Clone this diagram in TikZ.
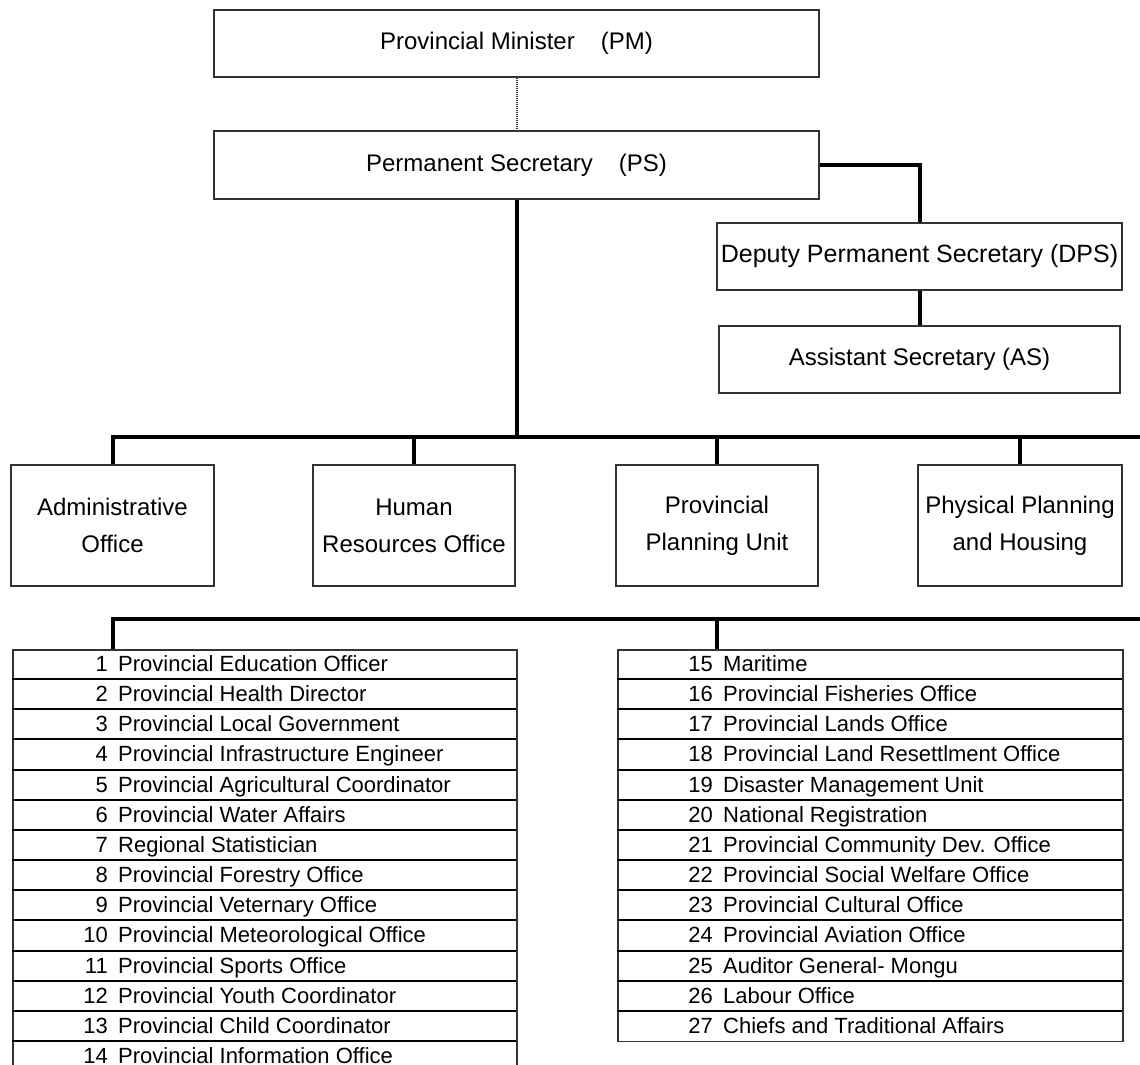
\documentclass[tikz,border=0pt]{standalone}
\usepackage{fontspec}
\setmainfont{Liberation Sans}
\newcommand\orgboxfont{\fontsize{24}{37}\selectfont}
\newcommand\orgwidefont{\fontsize{25}{30}\selectfont}
\newcommand\orgcellfont{\fontsize{22}{26}\selectfont}
\begin{document}
\begin{tikzpicture}[x=1pt,y=-1pt,
  box/.style={draw=black!80, line width=1.5pt, fill=white, inner sep=0pt,
              align=center, font=\orgboxfont},
  conn/.style={line width=4pt, black, line join=miter},
  link/.style={line width=2pt, black!80, dash pattern=on 1pt off 1pt},
  frame/.style={draw=black!80, line width=1.5pt, inner sep=0pt, anchor=north west},
  rowrule/.style={line width=2pt, black},
  num/.style={anchor=base east, inner sep=0pt, font=\orgcellfont},
  item/.style={anchor=base west, inner sep=0pt, font=\orgcellfont},
]
\useasboundingbox (0,0) rectangle (1140,1065);
\clip (0,0) rectangle (1140,1065);
\fill[white] (0,0) rectangle (1140,1065);

% --- top of the hierarchy ---
\node[box, minimum width=605, minimum height=67] (pm) at (516.5,43.5)
  {Provincial Minister\hspace{26pt}(PM)};
\node[box, minimum width=605, minimum height=68] (ps) at (516.5,165)
  {Permanent Secretary\hspace{26pt}(PS)};
\node[box, font=\orgwidefont, minimum width=405, minimum height=67] (dps) at (919.5,256.5)
  {Deputy Permanent Secretary (DPS)};
\node[box, minimum width=401, minimum height=67] (as) at (919.5,359.5)
  {Assistant Secretary (AS)};

\draw[link] (pm.south) -- (ps.north);
\draw[conn] (ps.east) -| (dps.north);
\draw[conn] (dps.south) -- (as.north);

% --- first row of offices ---
\node[box, minimum width=203, minimum height=121] (adm) at (112.5,525.5)
  {Administrative\\Office};
\node[box, minimum width=202, minimum height=121] (hr) at (414,525.5)
  {Human\\Resources Office};
\node[box, minimum width=202, minimum height=121] (ppu) at (717,525.5)
  {Provincial\\Planning Unit};
\node[box, minimum width=204, minimum height=121] (pph) at (1020,525.5)
  {Physical Planning\\and Housing};

\coordinate (busA) at (1150,437);
\draw[conn] (ps.south) -- (ps.south |- busA);
\draw[conn] (adm.north) -- (adm.north |- busA) -- (busA);
\foreach \b in {hr,ppu,pph}
  \draw[conn] (\b.north) -- (\b.north |- busA);

% --- line departments ---
\node[frame, minimum width=504, minimum height=422.1] (tabL) at (12,649) {};
\node[frame, minimum width=505, minimum height=391.95] (tabR) at (617,649) {};

\foreach \k in {1,...,13}
  \draw[rowrule] (12,649+\k*30.15) -- (516,649+\k*30.15);
\foreach \k in {1,...,12}
  \draw[rowrule] (617,649+\k*30.15) -- (1122,649+\k*30.15);

\foreach \n/\t [count=\k from 0] in {
  1/Provincial Education Officer,
  2/Provincial Health Director,
  3/Provincial Local Government,
  4/Provincial Infrastructure Engineer,
  5/Provincial Agricultural Coordinator,
  6/Provincial Water Affairs,
  7/Regional Statistician,
  8/Provincial Forestry Office,
  9/Provincial Veternary Office,
  10/Provincial Meteorological Office,
  11/Provincial Sports Office,
  12/Provincial Youth Coordinator,
  13/Provincial Child Coordinator,
  14/Provincial Information Office}{
  \node[num] (n\n) at (108,671.5+\k*30.15) {\n};
  \node[item] (t\n) at (118,671.5+\k*30.15) {\t};
}
\foreach \n/\t [count=\k from 0] in {
  15/Maritime,
  16/Provincial Fisheries Office,
  17/Provincial Lands Office,
  18/Provincial Land Resettlment Office,
  19/Disaster Management Unit,
  20/National Registration,
  21/Provincial Community Dev. Office,
  22/Provincial Social Welfare Office,
  23/Provincial Cultural Office,
  24/Provincial Aviation Office,
  25/Auditor General- Mongu,
  26/Labour Office,
  27/Chiefs and Traditional Affairs}{
  \node[num] (n\n) at (713,671.5+\k*30.15) {\n};
  \node[item] (t\n) at (723,671.5+\k*30.15) {\t};
}

\coordinate (busB) at (1150,619);
\draw[conn] (busB) -- (busB -| adm.north) -- (tabL.north -| adm.north);
\draw[conn] (ppu.north |- busB) -- (tabR.north -| ppu.north);
\end{tikzpicture}
\end{document}
